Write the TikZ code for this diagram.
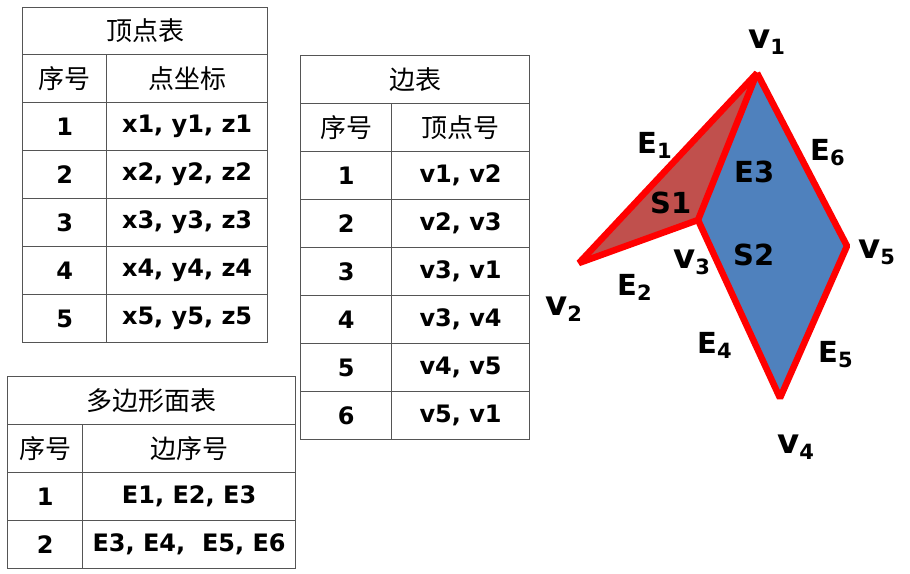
\documentclass[tikz,border=0pt]{standalone}
\usepackage{fontspec}
\setmainfont{DejaVu Sans}
\newfontfamily\cjkfont{Noto Sans CJK SC}
\usetikzlibrary{positioning}
\definecolor{gridgray}{RGB}{85,85,85}
\definecolor{sonefill}{RGB}{192,80,77}
\definecolor{stwofill}{RGB}{79,129,189}
\newcommand{\lblsub}[1]{\raisebox{-0.35ex}{\fontsize{21}{21}\selectfont #1}}

\begin{document}
\begin{tikzpicture}[
    x=1pt, y=-1pt,
    cell/.style={draw=gridgray, line width=1.2pt, minimum height=48pt, inner sep=0pt, anchor=north west, font=\bfseries\fontsize{24}{24}\selectfont},
    headcell/.style={cell, font=\cjkfont\fontsize{26}{26}\selectfont},
    edge/.style={draw=red, line width=6.5pt, line join=bevel},
    vlabel/.style={anchor=base west, inner sep=0pt, font=\bfseries\fontsize{34}{34}\selectfont},
    elabel/.style={anchor=base west, inner sep=0pt, font=\bfseries\fontsize{29}{29}\selectfont}
]
\useasboundingbox (0,0) rectangle (910,573);

% Vertex table
\node[headcell, minimum width=245pt, minimum height=47pt] (vtitle) at (22,7) {顶点表};
\node[headcell, minimum width=84pt] (vnohead) at (22,54) {序号};
\node[headcell, minimum width=161pt] (vcoordhead) at (106,54) {点坐标};
\foreach \i in {1,...,5} {
  \node[cell, minimum width=84pt] (vno\i) at (22,{54+48*\i}) {\i};
  \node[cell, minimum width=161pt] (vxyz\i) at (106,{54+48*\i}) {x\i, y\i, z\i};
}

% Edge table
\node[headcell, minimum width=229pt] (etitle) at (300,55) {边表};
\node[headcell, minimum width=91pt] (enohead) at (300,103) {序号};
\node[headcell, minimum width=138pt] (evhead) at (391,103) {顶点号};
\foreach \i/\pair in {1/{v1, v2}, 2/{v2, v3}, 3/{v3, v1}, 4/{v3, v4}, 5/{v4, v5}, 6/{v5, v1}} {
  \node[cell, minimum width=91pt] (eno\i) at (300,{103+48*\i}) {\i};
  \node[cell, minimum width=138pt] (ev\i) at (391,{103+48*\i}) {\pair};
}

% Polygon face table
\node[headcell, minimum width=288pt] (ftitle) at (7,376) {多边形面表};
\node[headcell, minimum width=75pt] (fnohead) at (7,424) {序号};
\node[headcell, minimum width=213pt] (fehead) at (82,424) {边序号};
\node[cell, minimum width=75pt] (fno1) at (7,472) {1};
\node[cell, minimum width=213pt] (fe1) at (82,472) {E1, E2, E3};
\node[cell, minimum width=75pt] (fno2) at (7,520) {2};
\node[cell, minimum width=213pt] (fe2) at (82,520) {E3, E4,\ \ E5, E6};

% Polygon mesh
\coordinate (v1) at (757,73);
\coordinate (v2) at (579,263);
\coordinate (v3) at (698,220);
\coordinate (v4) at (780,398);
\coordinate (v5) at (847,246);

\fill[sonefill] (v1) -- (v2) -- (v3) -- cycle;
\fill[stwofill] (v1) -- (v3) -- (v4) -- (v5) -- cycle;
\draw[edge] (v1) -- (v2) -- (v3) -- cycle;
\draw[edge] (v3) -- (v4) -- (v5) -- (v1);

% Labels
\node[vlabel] (lv1) at (748,48) {v\lblsub{1}};
\node[vlabel] (lv2) at (545,315) {v\lblsub{2}};
\node[vlabel] (lv3) at (673,268) {v\lblsub{3}};
\node[vlabel] (lv4) at (777,453) {v\lblsub{4}};
\node[vlabel] (lv5) at (858,258) {v\lblsub{5}};
\node[elabel] (le1) at (637,153) {E\lblsub{1}};
\node[elabel] (le2) at (617,295) {E\lblsub{2}};
\node[elabel] (le3) at (734,182) {E3};
\node[elabel] (le4) at (697,353) {E\lblsub{4}};
\node[elabel] (le5) at (818,362) {E\lblsub{5}};
\node[elabel] (le6) at (810,160) {E\lblsub{6}};
\node[elabel] (ls1) at (650,213) {S1};
\node[elabel] (ls2) at (733,265) {S2};
\end{tikzpicture}
\end{document}
